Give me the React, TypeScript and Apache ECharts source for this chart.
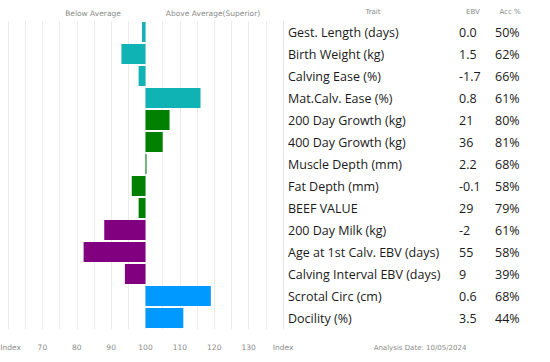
import React, { useEffect, useRef } from "react";
import * as echarts from "echarts";

const traits = [
  "Gest. Length (days)",
  "Birth Weight (kg)",
  "Calving Ease (%)",
  "Mat.Calv. Ease (%)",
  "200 Day Growth (kg)",
  "400 Day Growth (kg)",
  "Muscle Depth (mm)",
  "Fat Depth (mm)",
  "BEEF VALUE",
  "200 Day Milk (kg)",
  "Age at 1st Calv. EBV (days)",
  "Calving Interval EBV (days)",
  "Scrotal Circ (cm)",
  "Docility (%)",
];
const ebv = ["0.0", "1.5", "-1.7", "0.8", "21", "36", "2.2", "-0.1", "29", "-2", "55", "9", "0.6", "3.5"];
const acc = ["50%", "62%", "66%", "61%", "80%", "81%", "68%", "58%", "79%", "61%", "58%", "39%", "68%", "44%"];
const indexValues = [99, 93, 98, 116, 107, 105, 100.3, 96, 98, 88, 82, 94, 119, 111];
const groupOf = [0, 0, 0, 0, 1, 1, 1, 1, 1, 2, 2, 2, 3, 3];
const groupColors = ["#10B3B3", "#008000", "#800080", "#0099FF"];
const axisMin = 60;
const axisMax = 140;
const baseline = 100;

export default function App() {
  const ref = useRef<HTMLDivElement>(null);
  useEffect(() => {
    if (!ref.current) return;
    const chart = echarts.init(ref.current, null, { renderer: "svg" });
    const smallFont = "DejaVu Sans";
    const tableFont = "Open Sans";
    chart.setOption({
      animation: false,
      backgroundColor: "#ffffff",
      grid: { left: 8, right: 267, top: 21, bottom: 33, containLabel: false, outerBoundsMode: "none" },
      xAxis: {
        type: "value",
        min: axisMin,
        max: axisMax,
        interval: 5,
        axisLine: { show: false },
        axisTick: { show: false },
        splitLine: { show: true, lineStyle: { color: "#ebebeb", width: 1 } },
        axisLabel: {
          margin: 14,
          fontFamily: smallFont,
          fontSize: 7.5,
          color: "#8a8a8a",
          formatter: (v: number) => {
            if (v === axisMin) return "{first|Index}";
            if (v === axisMax) return "Index";
            return v % 10 === 0 ? String(v) : "";
          },
          rich: {
            first: { fontFamily: smallFont, fontSize: 7.5, color: "#8a8a8a", padding: [0, 0, 0, 5] },
          },
        },
      },
      yAxis: {
        type: "category",
        data: traits,
        inverse: true,
        position: "right",
        axisLine: { show: true, lineStyle: { color: "#e6e6e6" } },
        axisTick: { show: false },
        splitLine: { show: false },
        axisLabel: {
          margin: 5,
          align: "left",
          formatter: (_v: string, idx: number) =>
            `{t|${traits[idx]}}{e|${ebv[idx]}}{a|${acc[idx]}}`,
          rich: {
            t: { width: 171, fontFamily: tableFont, fontSize: 12.5, color: "#1a1a1a" },
            e: { width: 36, fontFamily: tableFont, fontSize: 12.5, color: "#1a1a1a" },
            a: { fontFamily: tableFont, fontSize: 12.5, color: "#1a1a1a" },
          },
        },
      },
      series: [
        {
          type: "bar",
          stack: "idx",
          barWidth: 20,
          silent: true,
          itemStyle: { color: "transparent" },
          data: indexValues.map((v) => Math.min(v, baseline)),
        },
        {
          type: "bar",
          stack: "idx",
          barWidth: 20,
          data: indexValues.map((v, i) => ({
            value: Math.abs(v - baseline),
            itemStyle: { color: groupColors[groupOf[i]] },
          })),
        },
      ],
      graphic: [
        { type: "text", x: 93, y: 13, style: { text: "Below Average", font: `7.5px "${smallFont}"`, fill: "#8a8a8a", textAlign: "center", textVerticalAlign: "middle" } },
        { type: "text", x: 213, y: 13, style: { text: "Above Average(Superior)", font: `7.5px "${smallFont}"`, fill: "#8a8a8a", textAlign: "center", textVerticalAlign: "middle" } },
        { type: "text", x: 373, y: 12, style: { text: "Trait", font: `7px "${smallFont}"`, fill: "#8a8a8a", textAlign: "center", textVerticalAlign: "middle" } },
        { type: "text", x: 473, y: 12, style: { text: "EBV", font: `7px "${smallFont}"`, fill: "#8a8a8a", textAlign: "center", textVerticalAlign: "middle" } },
        { type: "text", x: 510, y: 12, style: { text: "Acc %", font: `7px "${smallFont}"`, fill: "#8a8a8a", textAlign: "center", textVerticalAlign: "middle" } },
        { type: "text", x: 420, y: 348, style: { text: "Analysis Date: 10/05/2024", font: `7px "${smallFont}"`, fill: "#8a8a8a", textAlign: "center", textVerticalAlign: "middle" } },
      ],
    });
    return () => chart.dispose();
  }, []);
  return <div ref={ref} style={{ width: 550, height: 362, position: "absolute", left: 0, top: 0 }} />;
}
